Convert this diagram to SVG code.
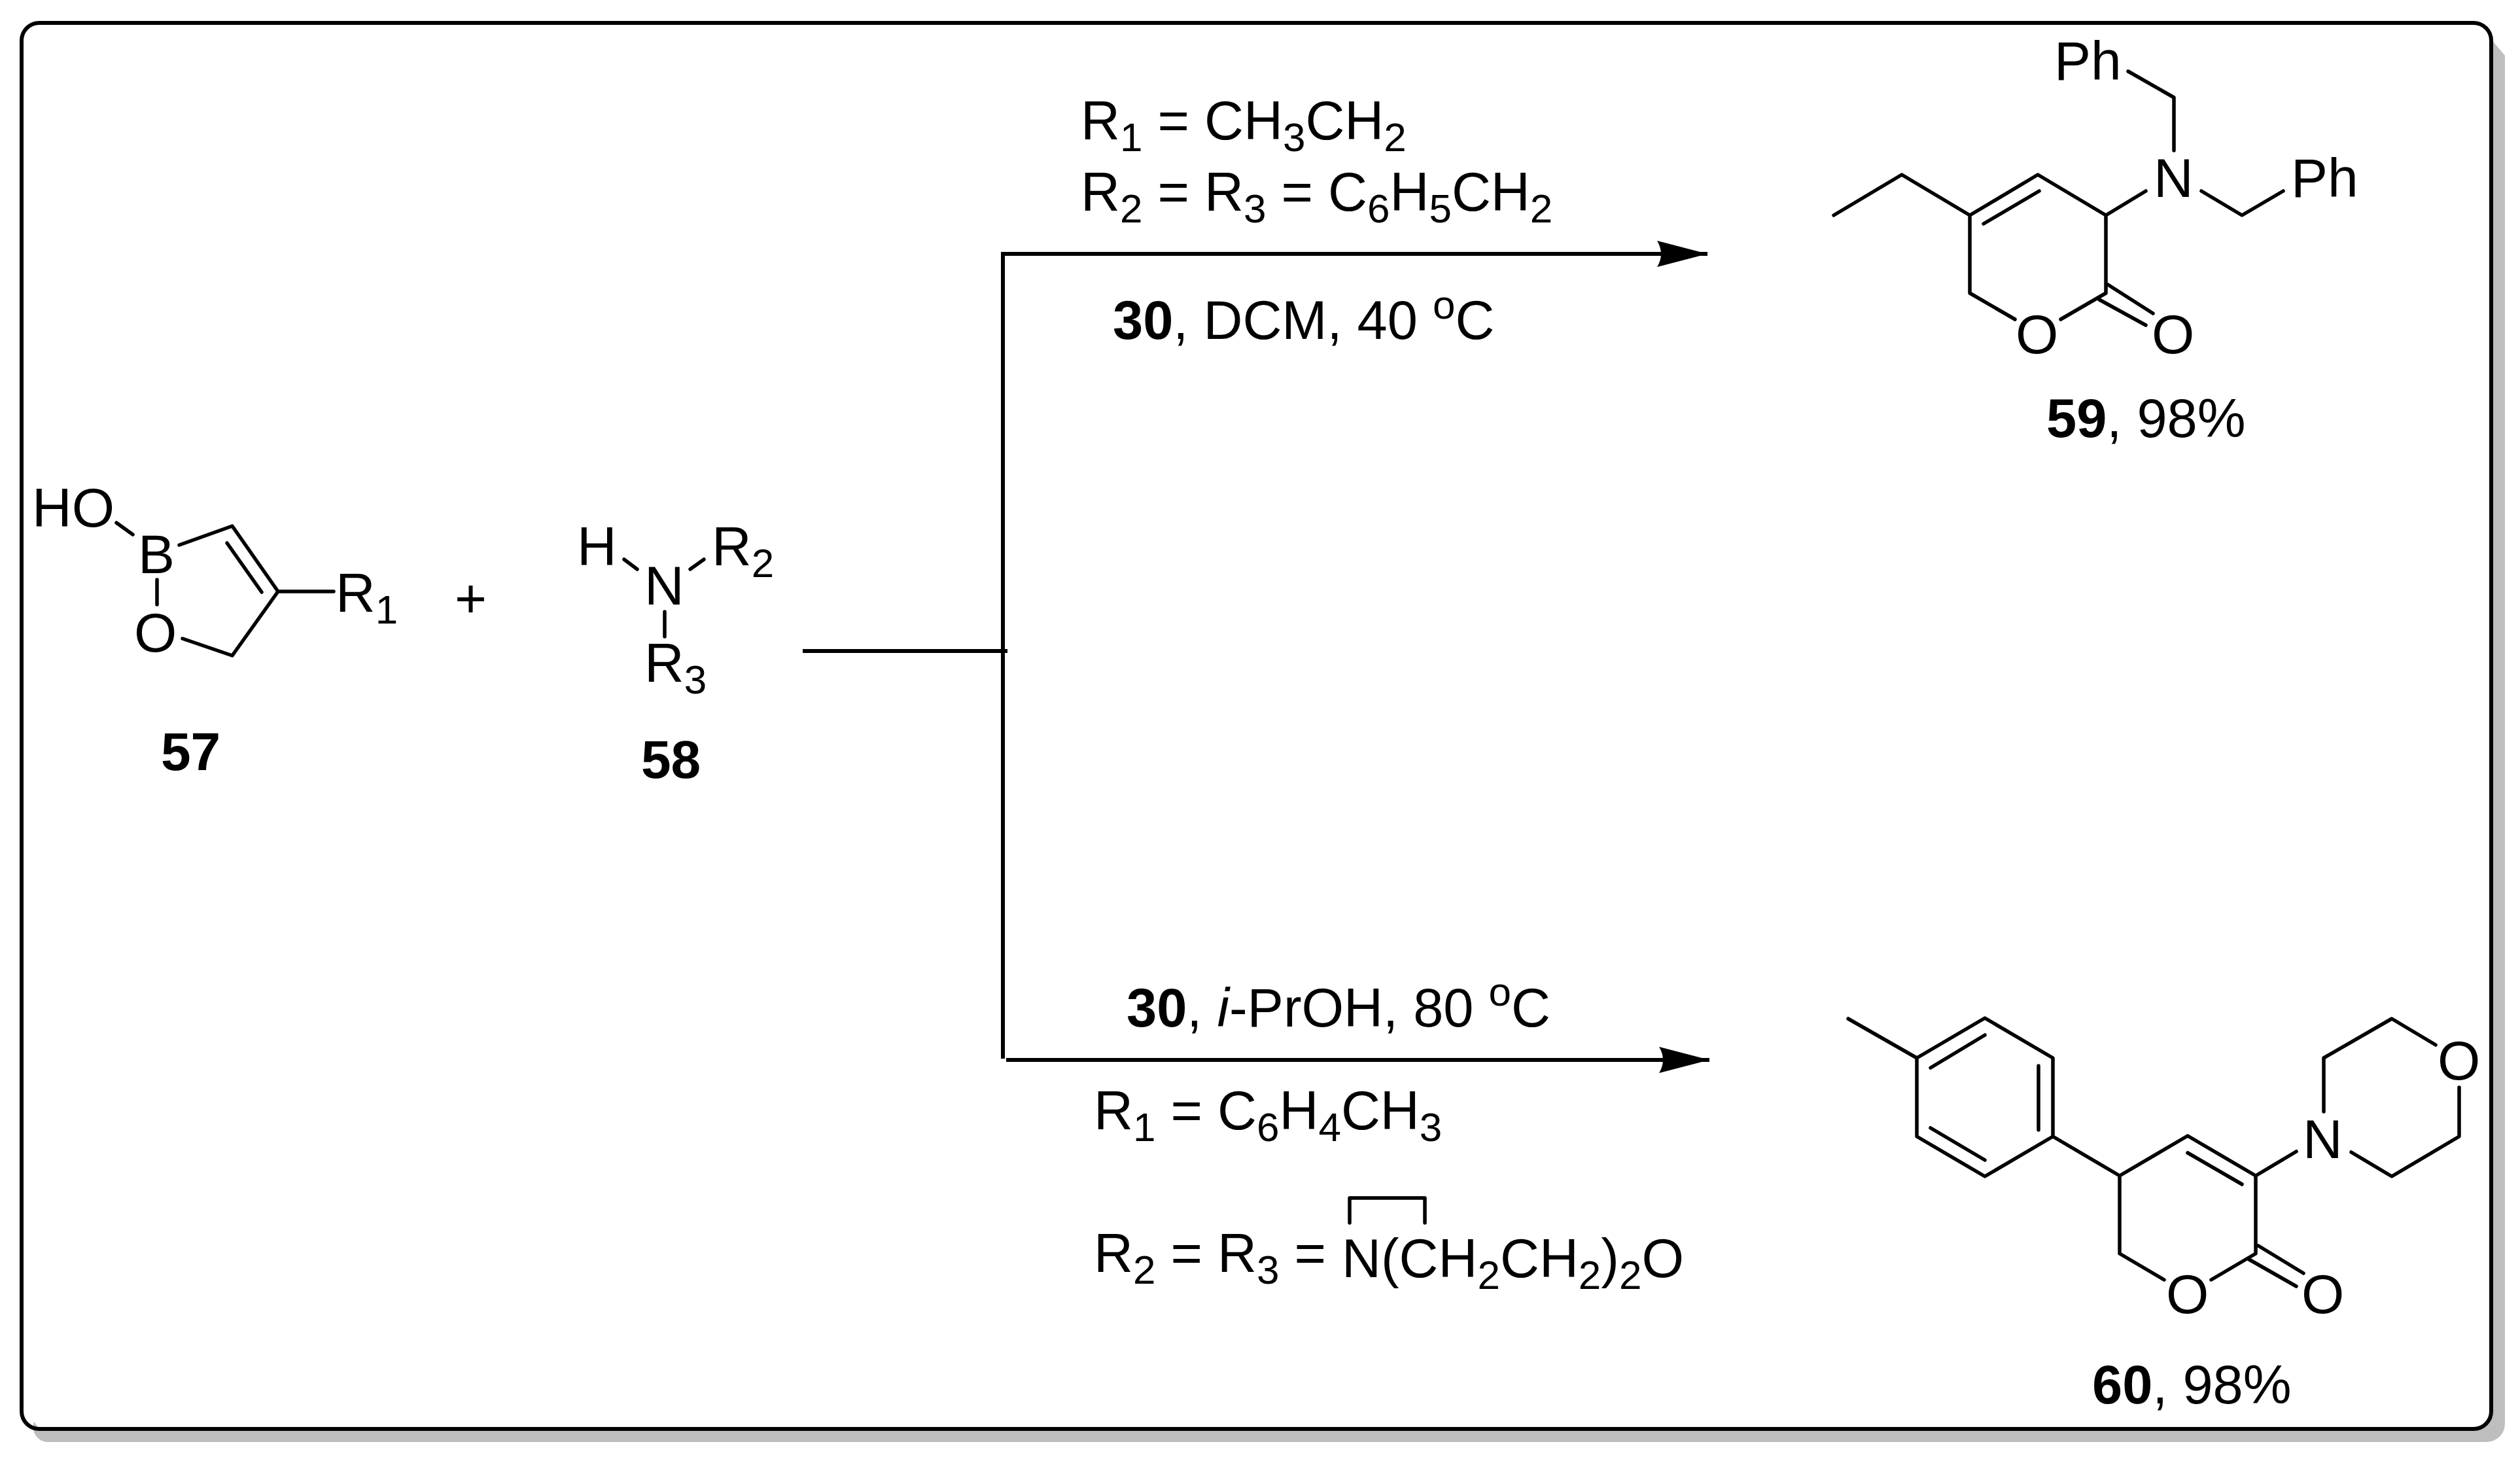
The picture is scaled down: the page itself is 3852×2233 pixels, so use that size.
<svg xmlns="http://www.w3.org/2000/svg" width="3852" height="2233" viewBox="0 0 3852 2233">
<style>
text{font-family:"Liberation Sans",Arial,sans-serif;fill:#000;font-size:84px}
.t{font-size:83px}
.b{font-weight:bold}
.s{font-size:62px}
.bond{fill:none;stroke:#000;stroke-width:5.5;stroke-linecap:round;stroke-linejoin:round}
.rx{fill:none;stroke:#000;stroke-width:6}
</style>
<defs>
<marker id="ah" markerUnits="userSpaceOnUse" markerWidth="80" markerHeight="44" refX="77" refY="20" orient="auto" overflow="visible">
<path d="M0,0 L77,20 L0,40 Q12,20 0,0Z" fill="#000"/>
</marker>
</defs>
<g id="frame">
<rect x="33" y="35" width="3775" height="2149" rx="27" fill="#fff"/>
<path fill="#bebebe" d="M3808,60L3829,85V2176A28,28 0 0 1 3801,2204H75A23,23 0 0 1 52,2173L60,2184H3780A28,28 0 0 0 3808,2156Z"/>
<rect x="33" y="35" width="3775" height="2149" rx="27" fill="none" stroke="#000" stroke-width="6"/>
</g>
<g id="connectors">
<path class="rx" d="M1227,995H1540"/>
<path class="rx" d="M1533,1618V385"/>
<path class="rx" d="M1530,388H2610" marker-end="url(#ah)"/>
<path class="rx" d="M1538,1620H2613" marker-end="url(#ah)"/>
</g>
<g id="conditions-top">
<text class="t" x="1652" y="213">R<tspan class="s" dy="18">1</tspan><tspan dy="-18"> = CH</tspan><tspan class="s" dy="18">3</tspan><tspan dy="-18">CH</tspan><tspan class="s" dy="18">2</tspan></text>
<text class="t" x="1652" y="322">R<tspan class="s" dy="18">2</tspan><tspan dy="-18"> = R</tspan><tspan class="s" dy="18">3</tspan><tspan dy="-18"> = C</tspan><tspan class="s" dy="18">6</tspan><tspan dy="-18">H</tspan><tspan class="s" dy="18">5</tspan><tspan dy="-18">CH</tspan><tspan class="s" dy="18">2</tspan></text>
<text class="t" x="1701" y="518"><tspan class="b">30</tspan>, DCM, 40 <tspan class="s" dy="-31">o</tspan><tspan dy="31">C</tspan></text>
</g>
<g id="conditions-bottom">
<text class="t" x="1722" y="1569"><tspan class="b">30</tspan>, <tspan font-style="italic">i</tspan>-PrOH, 80 <tspan class="s" dy="-32">o</tspan><tspan dy="32">C</tspan></text>
<text class="t" x="1672" y="1726">R<tspan class="s" dy="18">1</tspan><tspan dy="-18"> = C</tspan><tspan class="s" dy="18">6</tspan><tspan dy="-18">H</tspan><tspan class="s" dy="18">4</tspan><tspan dy="-18">CH</tspan><tspan class="s" dy="18">3</tspan></text>
<text class="t" x="1672" y="1944">R<tspan class="s" dy="18">2</tspan><tspan dy="-18"> = R</tspan><tspan class="s" dy="18">3</tspan><tspan dy="-18"> =</tspan></text>
<text class="t" x="2051" y="1952">N(CH<tspan class="s" dy="18">2</tspan><tspan dy="-18">CH</tspan><tspan class="s" dy="18">2</tspan><tspan dy="-18">)</tspan><tspan class="s" dy="18">2</tspan><tspan dy="-18">O</tspan></text>
<path class="bond" stroke-linecap="butt" d="M2063,1869V1831H2178V1869"/>
</g>
<g id="node-57">
<path class="bond" d="M178,799L203,817M274,833L355,804L425,904L355,1002L279,976M347,830L400,905M425,904H510M240,886V924"/>
<text x="49" y="805">HO</text>
<text x="211" y="876">B</text>
<text x="205" y="996">O</text>
<text x="513" y="935">R<tspan class="s" dy="18">1</tspan></text>
<text x="246" y="1177" class="b" style="font-size:82px">57</text>
</g>
<text id="plus" x="695" y="943">+</text>
<g id="node-58">
<path class="bond" d="M954,855L974,870M1076,855L1055,870M1016,935V973"/>
<text x="882" y="864">H</text>
<text x="985" y="924">N</text>
<text x="1088" y="864">R<tspan class="s" dy="18">2</tspan></text>
<text x="985" y="1042">R<tspan class="s" dy="18">3</tspan></text>
<text x="980" y="1189" class="b" style="font-size:82px">58</text>
</g>
<g id="node-59">
<path class="bond" d="M2803,329L2907,267L3011,329L3115,267L3219,329V448L3150,488M3032,342L3117,292M3011,329V448L3080,488M3222,435L3291,479M3209,458L3280,497M3219,329L3280,292M3323,230V149L3253,109M3365,292L3427,329L3490,292"/>
<text x="3081" y="540">O</text>
<text x="3289" y="540">O</text>
<text x="3292" y="301">N</text>
<text x="3140" y="122">Ph</text>
<text x="3502" y="301">Ph</text>
<text class="t" x="3128" y="668"><tspan class="b">59</tspan>, 98%</text>
</g>
<g id="node-60">
<path class="bond" d="M2825,1557L2930,1617L3034,1556L3138,1617V1737L3034,1798L2930,1737V1617M2951,1632L3034,1582M3116,1629V1727M3034,1773L2951,1724M3138,1737L3240,1797L3344,1736L3448,1797V1916L3380,1956M3344,1762L3427,1810M3240,1797V1916L3308,1956M3452,1904L3521,1946M3438,1925L3510,1966M3448,1797L3510,1760M3552,1699V1617L3656,1557L3723,1597M3759,1662V1737L3656,1798L3594,1761"/>
<text x="3311" y="2007">O</text>
<text x="3518" y="2007">O</text>
<text x="3520" y="1770">N</text>
<text x="3726" y="1650">O</text>
<text class="t" x="3198" y="2145"><tspan class="b">60</tspan>, 98%</text>
</g>
</svg>
